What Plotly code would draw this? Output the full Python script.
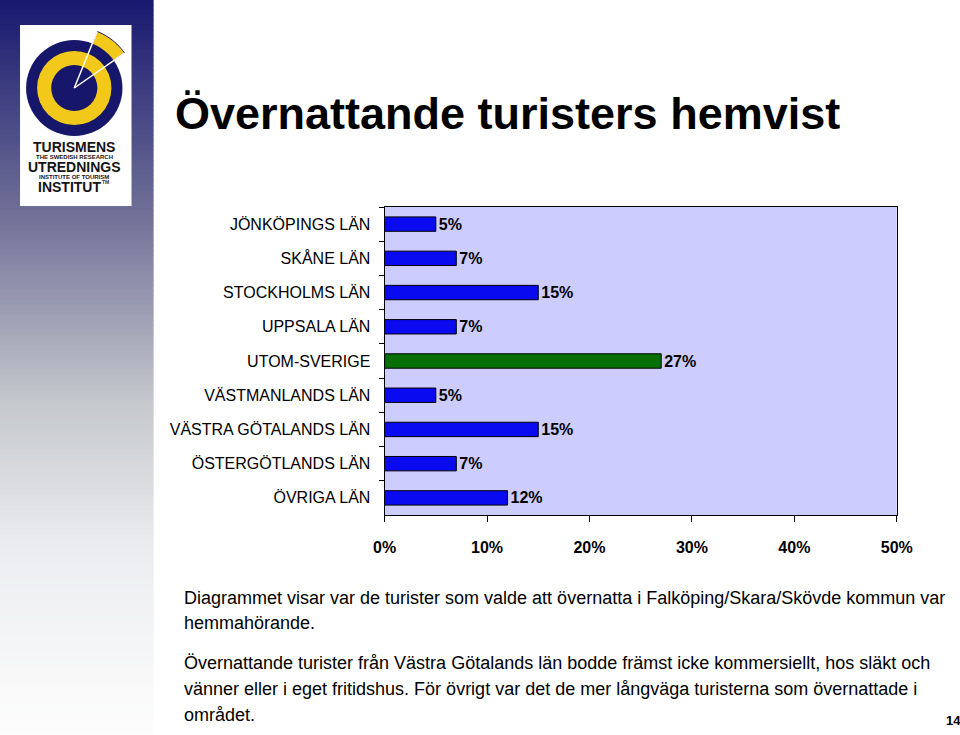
import plotly.graph_objects as go
import math

W, H = 960, 735

categories = ["JÖNKÖPINGS LÄN", "SKÅNE LÄN", "STOCKHOLMS LÄN", "UPPSALA LÄN",
              "UTOM-SVERIGE", "VÄSTMANLANDS LÄN", "VÄSTRA GÖTALANDS LÄN",
              "ÖSTERGÖTLANDS LÄN", "ÖVRIGA LÄN"]
values = [5, 7, 15, 7, 27, 5, 15, 7, 12]
x_tick_vals = [0, 10, 20, 30, 40, 50]
x_tick_text = ["0%", "10%", "20%", "30%", "40%", "50%"]
highlight = "UTOM-SVERIGE"

title_text = "Övernattande turisters hemvist"
body_lines = [
    "Diagrammet visar var de turister som valde att övernatta i Falköping/Skara/Skövde kommun var",
    "hemmahörande.",
    "Övernattande turister från Västra Götalands län bodde främst icke kommersiellt, hos släkt och",
    "vänner eller i eget fritidshus. För övrigt var det de mer långväga turisterna som övernattade i",
    "området.",
]
page_no = "14"
logo_lines = ["TURISMENS", "THE SWEDISH RESEARCH", "UTREDNINGS", "INSTITUTE OF TOURISM", "INSTITUT"]

FONT = "Liberation Sans"
BLUE = "#0a0af0"
GREEN = "#067006"

# observed effective horizontal drawing area of the figure in the photograph
X_OFF, X_W = 16.0, 928.0


def px(x):
    return (x - X_OFF) / X_W


def py(y):
    return 1 - y / H


colors = [GREEN if c == highlight else BLUE for c in categories]

fig = go.Figure()
fig.add_trace(go.Bar(
    y=categories, x=values, orientation="h",
    marker=dict(color=colors, line=dict(color="#000000", width=1)),
    width=0.42,
    text=[f"{v}%" for v in values], textposition="outside",
    textfont=dict(family=FONT, size=16, color="#000000"),
    texttemplate="<b>%{text}</b>",
    constraintext="none",
    cliponaxis=False,
    hoverinfo="skip",
))

shapes = []
# sidebar gradient
stops = [(0, (24, 24, 112)), (200, (106, 106, 148)), (400, (196, 199, 204)),
         (550, (236, 237, 240)), (735, (253, 253, 253))]


def grad(y):
    for (y0, c0), (y1, c1) in zip(stops[:-1], stops[1:]):
        if y0 <= y <= y1:
            t = (y - y0) / (y1 - y0)
            return tuple(int(round(a + (b - a) * t)) for a, b in zip(c0, c1))
    return stops[-1][1]


step = 5
for y in range(0, H, step):
    c = grad(y + step / 2)
    shapes.append(dict(type="rect", xref="paper", yref="paper",
                       x0=px(2), x1=px(157), y0=py(min(y + step + 0.5, H)), y1=py(y),
                       fillcolor=f"rgb{c}", line=dict(width=0), layer="below"))

# logo white box
shapes.append(dict(type="rect", xref="paper", yref="paper",
                   x0=px(24), x1=px(135), y0=py(206), y1=py(25),
                   fillcolor="#ffffff", line=dict(width=0), layer="below"))

NAVY = "#16166a"
YEL = "#f2c91a"
cx, cy = 78, 88


def circ(r, color):
    return dict(type="circle", xref="paper", yref="paper",
                x0=px(cx - r), x1=px(cx + r), y0=py(cy + r), y1=py(cy - r),
                fillcolor=color, line=dict(width=0), layer="above")


def pt(r, ang):
    a = math.radians(ang)
    return px(cx + r * math.cos(a)), py(cy - r * math.sin(a))


# wedge outside
a0, a1 = 35, 68
pts = []
n = 12
for i in range(n + 1):
    pts.append(pt(61, a0 + (a1 - a0) * i / n))
for i in range(n + 1):
    pts.append(pt(46, a1 - (a1 - a0) * i / n))
path = "M " + " L ".join(f"{x:.5f},{y:.5f}" for x, y in pts) + " Z"
shapes.append(dict(type="path", xref="paper", yref="paper", path=path,
                   fillcolor=YEL, line=dict(color=NAVY, width=1), layer="above"))
shapes.append(circ(48, NAVY))
shapes.append(circ(37, YEL))
shapes.append(circ(23, NAVY))
for ang in (a0, a1):
    x1, y1 = pt(61, ang)
    shapes.append(dict(type="line", xref="paper", yref="paper",
                       x0=px(cx), y0=py(cy), x1=x1, y1=y1,
                       line=dict(color="#ffffff", width=1.5), layer="above"))

annotations = []
logo_pos = [(78, 147, 14), (78, 157, 6), (78, 167, 14), (78, 177, 6), (73, 187, 14)]
for t, (x, y, s) in zip(logo_lines, logo_pos):
    annotations.append(dict(text=f"<b>{t}</b>", x=px(x), y=py(y),
                            xref="paper", yref="paper", xanchor="center", yanchor="middle",
                            showarrow=False, borderpad=0,
                            font=dict(family=FONT, size=s, color="#141414")))
annotations.append(dict(text="<b>TM</b>", x=px(105), y=py(182), xref="paper", yref="paper",
                        xanchor="left", yanchor="middle", showarrow=False, borderpad=0,
                        font=dict(family=FONT, size=5, color="#333333")))

annotations.append(dict(text=f"<b>{title_text}</b>", x=px(176), y=py(114),
                        xref="paper", yref="paper", xanchor="left", yanchor="middle",
                        showarrow=False, font=dict(family=FONT, size=45, color="#000000")))

line_y = [598, 623, 663, 689, 715]
for t, y in zip(body_lines, line_y):
    annotations.append(dict(text=t, x=px(185), y=py(y), xref="paper", yref="paper",
                            xanchor="left", yanchor="middle", showarrow=False,
                            font=dict(family=FONT, size=18, color="#000000")))

annotations.append(dict(text=f"<b>{page_no}</b>", x=px(953), y=py(720), xref="paper",
                        yref="paper", xanchor="center", yanchor="middle", showarrow=False,
                        font=dict(family=FONT, size=13, color="#000000")))

fig.update_layout(
    width=W, height=H, autosize=False,
    margin=dict(l=0, r=0, t=0, b=0, pad=0),
    paper_bgcolor="#ffffff",
    plot_bgcolor="#ccccff",
    showlegend=False,
    shapes=shapes,
    annotations=annotations,
    xaxis=dict(domain=[px(387), px(897)], range=[0, 50], tickvals=x_tick_vals,
               ticktext=[f"<b>{t}</b>" for t in x_tick_text],
               ticks="outside", ticklen=6, tickcolor="#000", showgrid=False, zeroline=False,
               showline=True, linecolor="#000", linewidth=1, mirror=True,
               tickfont=dict(family=FONT, size=16, color="#000"), ticklabelstandoff=12),
    yaxis=dict(domain=[py(515), py(207)], categoryorder="array",
               categoryarray=categories[::-1], tickson="boundaries",
               ticks="outside", ticklen=5, tickcolor="#000", showgrid=False,
               showline=True, linecolor="#000", linewidth=1, mirror=True,
               tickfont=dict(family=FONT, size=16, color="#000"), ticklabelstandoff=10),
)

fig.write_html("out.html", config={"displayModeBar": False})
